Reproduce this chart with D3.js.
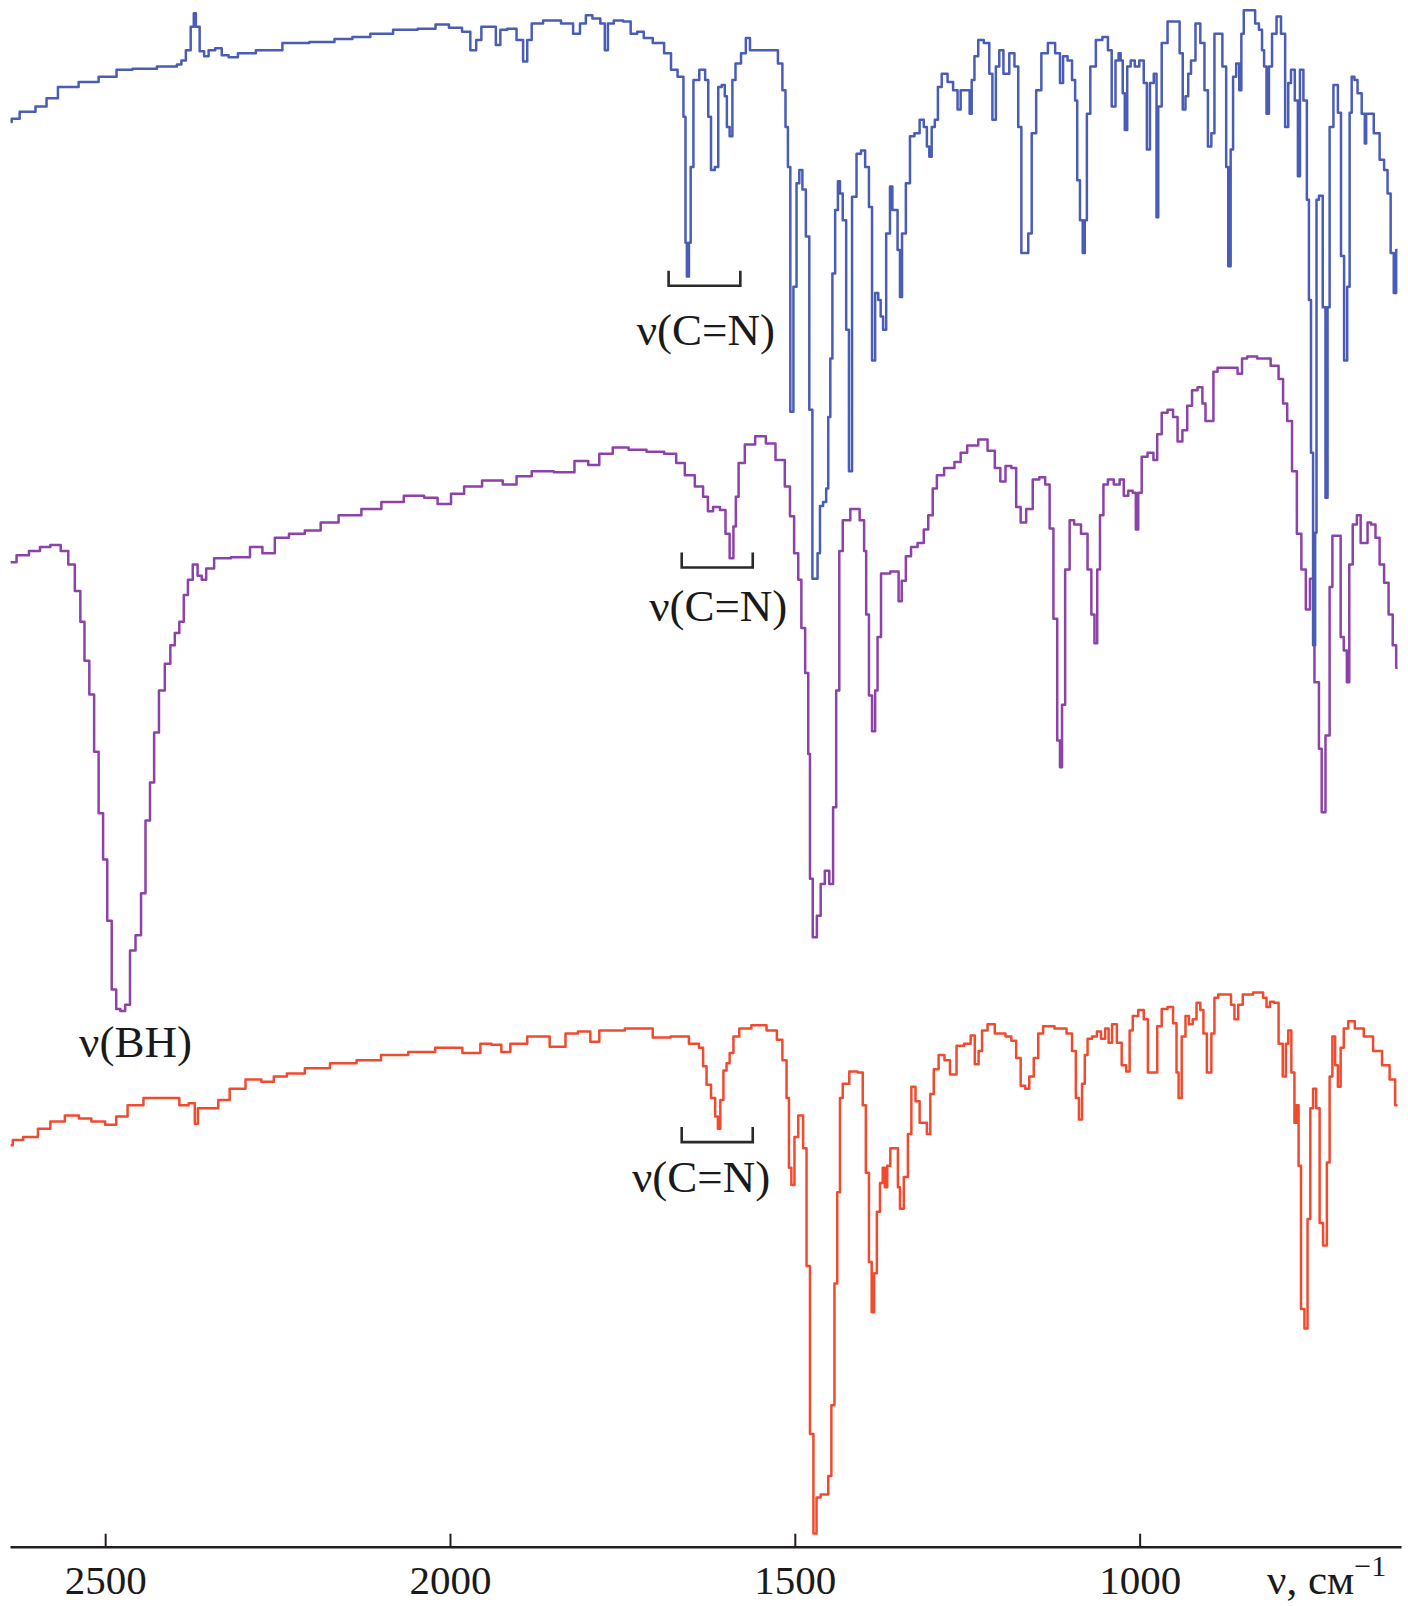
<!DOCTYPE html>
<html><head><meta charset="utf-8">
<script src="https://cdn.jsdelivr.net/npm/d3@7"></script>
<style>body{margin:0;background:#fff}svg{display:block}</style>
</head><body>
<svg id="chart" width="1408" height="1606"></svg>
<script>
// wavenumber (cm^-1), transmittance (arb. units, offset spectra)
const spectrumTop = [[2637,139.1],[2634,139.4],[2614,140.1],[2588,140.6],[2582,141.4],[2555,142.5],[2522,143.0],[2497,143.5],[2470,144.2],[2451,144.3],[2399,144.5],[2393,144.7],[2386,145.1],[2380,146.1],[2372,148.4],[2371,149.7],[2366,148.4],[2360,146.0],[2353,145.5],[2347,146.1],[2334,146.3],[2328,145.6],[2314,145.4],[2301,145.8],[2262,146.1],[2224,146.8],[2184,146.9],[2151,147.2],[2132,147.4],[2099,147.7],[2066,148.1],[2028,148.2],[2014,148.6],[1989,148.3],[1976,147.9],[1965,146.1],[1959,147.1],[1950,148.4],[1937,148.4],[1930,146.6],[1924,148.1],[1910,148.2],[1897,147.1],[1891,145.0],[1885,147.1],[1878,148.7],[1852,149.0],[1826,148.7],[1817,147.7],[1806,148.7],[1800,149.5],[1787,149.2],[1777,148.7],[1774,146.1],[1768,148.7],[1757,149.0],[1741,148.9],[1735,147.7],[1722,147.9],[1716,147.3],[1696,146.8],[1683,145.8],[1676,144.2],[1664,143.5],[1659,139.6],[1658,127.3],[1655,124.0],[1652,127.3],[1650,134.7],[1644,143.2],[1633,144.2],[1627,143.2],[1624,139.6],[1619,134.4],[1613,134.7],[1609,142.5],[1603,142.7],[1600,141.6],[1597,138.6],[1592,137.7],[1589,143.2],[1583,144.8],[1573,145.8],[1569,147.3],[1561,146.1],[1528,146.1],[1521,144.8],[1515,142.2],[1512,138.6],[1508,134.7],[1505,110.8],[1499,123.0],[1496,133.1],[1491,134.4],[1487,132.5],[1481,127.9],[1477,111.0],[1472,94.5],[1469,94.5],[1465,97.0],[1462,101.6],[1456,102.0],[1453,103.3],[1450,110.3],[1447,116.0],[1444,124.3],[1439,130.5],[1436,133.3],[1433,132.1],[1428,129.5],[1423,118.8],[1420,105.0],[1414,131.8],[1407,136.0],[1401,136.3],[1395,134.7],[1390,130.8],[1386,115.8],[1381,122.4],[1377,121.7],[1374,120.1],[1370,118.8],[1365,128.2],[1359,132.8],[1358,130.5],[1353,130.5],[1349,126.6],[1346,122.0],[1343,128.2],[1335,133.1],[1331,137.7],[1322,138.0],[1316,139.3],[1310,138.6],[1307,136.7],[1303,135.7],[1300,138.6],[1294,139.3],[1291,142.5],[1283,143.8],[1274,143.0],[1267,142.2],[1261,140.3],[1258,142.2],[1248,142.2],[1245,139.9],[1242,143.2],[1237,145.5],[1231,147.1],[1221,146.8],[1215,143.8],[1212,139.3],[1205,144.5],[1202,146.1],[1193,143.8],[1185,145.8],[1178,144.5],[1174,138.6],[1169,126.3],[1163,126.3],[1160,128.2],[1153,138.0],[1147,142.2],[1138,145.8],[1128,146.8],[1117,145.8],[1114,142.9],[1108,145.5],[1101,145.1],[1095,143.2],[1092,141.2],[1089,133.4],[1084,129.5],[1081,126.3],[1078,129.5],[1075,139.9],[1068,144.5],[1059,147.1],[1049,147.4],[1043,146.1],[1038,140.6],[1032,145.1],[1029,145.8],[1026,145.1],[1023,141.9],[1020,138.3],[1016,144.5],[1010,145.1],[1004,144.5],[997,145.1],[991,142.9],[988,136.4],[982,142.9],[977,143.8],[974,129.8],[972,140.6],[964,146.8],[955,148.9],[945,148.9],[939,145.8],[936,140.3],[931,141.6],[928,143.8],[923,145.1],[915,148.7],[909,146.8],[903,142.2],[899,136.7],[893,138.0],[890,147.7],[884,147.7],[876,144.5],[873,134.7],[870,125.0],[866,136.4],[863,143.5],[857,144.8],[854,142.2],[851,147.7],[847,150.0],[835,150.0],[830,148.7],[824,148.1],[821,146.1],[818,144.5],[814,139.9],[811,144.5],[805,147.7],[798,149.4],[792,147.7],[786,138.6],[783,142.9],[778,144.2],[772,141.2],[769,133.8],[766,144.2],[759,141.2],[756,131.5],[753,121.7],[750,106.8],[747,88.0],[744,99.0],[743,131.5],[737,131.9],[732,121.0],[729,102.4],[726,121.0],[723,138.6],[715,142.7],[710,140.0],[706,126.0],[701,115.8],[697,123.0],[694,140.0],[691,143.5],[686,143.2],[682,141.9],[674,139.9],[673,137.0],[670,139.9],[666,139.9],[655,138.0],[649,135.4],[642,134.4],[639,132.1],[633,126.3],[630,122.4],[626,126.6]];

const spectrumMiddle = [[2637,96.1],[2620,96.8],[2601,97.2],[2588,97.6],[2571,97.8],[2558,97.2],[2549,95.9],[2539,93.3],[2533,90.3],[2527,86.5],[2519,83.2],[2513,77.6],[2506,71.6],[2500,67.1],[2494,61.1],[2487,54.4],[2481,52.5],[2475,52.3],[2467,52.9],[2461,58.2],[2451,59.7],[2445,63.8],[2438,70.9],[2432,74.6],[2426,79.5],[2418,83.6],[2409,86.2],[2402,88.0],[2396,89.2],[2389,90.3],[2383,92.9],[2377,94.4],[2369,95.9],[2363,94.8],[2357,94.4],[2350,95.5],[2334,96.5],[2301,96.6],[2279,97.6],[2265,97.0],[2243,98.5],[2224,98.9],[2197,99.2],[2178,100.0],[2145,100.7],[2112,101.3],[2087,102.0],[2047,102.6],[2028,102.4],[2008,101.8],[1989,102.8],[1970,103.5],[1937,104.1],[1910,103.7],[1897,104.5],[1866,105.0],[1833,104.9],[1806,106.0],[1793,105.6],[1774,106.7],[1754,107.3],[1728,107.1],[1702,106.9],[1677,106.7],[1667,105.8],[1652,104.6],[1638,103.5],[1628,102.5],[1624,101.1],[1613,101.5],[1604,101.2],[1597,98.9],[1592,96.5],[1586,99.6],[1585,102.5],[1578,105.8],[1567,107.6],[1548,108.4],[1536,107.7],[1520,106.1],[1509,103.5],[1505,100.6],[1497,97.0],[1493,94.4],[1488,89.7],[1482,85.3],[1479,77.4],[1477,65.2],[1471,59.5],[1465,61.6],[1460,64.7],[1453,66.0],[1447,64.7],[1442,72.2],[1438,83.6],[1433,97.2],[1428,100.2],[1411,101.3],[1401,100.2],[1398,97.2],[1395,91.0],[1390,83.1],[1386,79.6],[1381,83.6],[1379,88.8],[1371,95.0],[1352,95.2],[1347,92.3],[1343,94.3],[1335,96.7],[1328,97.6],[1316,98.0],[1310,99.3],[1303,100.7],[1297,103.3],[1291,104.6],[1276,105.3],[1261,105.9],[1258,106.8],[1242,107.5],[1226,108.1],[1215,107.0],[1205,105.3],[1199,104.0],[1190,105.5],[1182,105.3],[1176,101.5],[1169,100.0],[1160,101.3],[1150,104.2],[1141,104.4],[1133,103.7],[1128,99.4],[1122,90.6],[1117,78.7],[1114,76.1],[1111,82.2],[1105,95.4],[1098,100.2],[1092,99.8],[1078,98.9],[1073,95.4],[1067,91.0],[1064,88.2],[1059,95.4],[1056,100.7],[1049,103.7],[1043,104.2],[1032,103.7],[1026,104.2],[1020,102.6],[1013,103.1],[1007,102.9],[1004,99.3],[1000,102.9],[994,106.4],[983,106.8],[977,106.1],[972,108.6],[964,110.7],[955,111.0],[948,110.3],[942,107.9],[934,109.0],[928,111.4],[920,112.9],[912,113.2],[906,111.6],[903,109.9],[896,109.9],[890,114.7],[884,115.1],[860,115.1],[856,114.5],[847,116.0],[841,116.2],[818,116.0],[802,115.3],[795,114.0],[789,111.6],[783,109.9],[775,105.0],[769,98.9],[762,95.4],[756,91.5],[750,94.5],[743,84.4],[737,77.9],[735,71.7],[726,79.2],[723,93.7],[718,98.7],[710,98.7],[707,88.8],[701,87.5],[698,84.4],[694,95.9],[688,99.8],[682,100.7],[677,98.0],[671,98.0],[668,100.0],[661,99.8],[655,98.5],[649,95.9],[642,94.1],[636,91.0],[630,88.0],[626,85.8]];

const spectrumBottom = [[2637,39.2],[2631,39.7],[2607,40.0],[2588,40.8],[2571,41.5],[2546,42.1],[2530,41.8],[2510,41.5],[2490,41.2],[2478,42.0],[2457,43.1],[2432,43.8],[2399,43.8],[2386,43.1],[2372,43.3],[2368,41.3],[2363,42.8],[2341,42.8],[2331,43.6],[2308,44.7],[2285,45.6],[2262,45.4],[2249,45.9],[2224,46.2],[2197,46.7],[2151,47.2],[2120,47.5],[2080,48.0],[2041,48.3],[2002,48.7],[1962,48.2],[1950,49.1],[1930,49.0],[1921,48.3],[1904,49.1],[1872,49.8],[1839,48.8],[1826,50.1],[1803,50.3],[1790,49.3],[1777,50.4],[1716,50.6],[1696,49.7],[1664,49.8],[1643,49.1],[1635,48.7],[1631,46.9],[1625,45.1],[1618,43.8],[1613,42.0],[1610,40.8],[1606,43.6],[1601,46.5],[1597,47.2],[1592,48.2],[1586,49.8],[1575,50.6],[1551,50.9],[1531,50.4],[1521,49.5],[1515,47.5],[1509,43.8],[1508,37.0],[1502,35.3],[1499,40.0],[1491,42.1],[1485,38.9],[1481,27.4],[1475,11.0],[1471,1.3],[1466,4.8],[1459,5.1],[1453,5.1],[1450,6.9],[1444,13.8],[1441,25.7],[1436,34.6],[1433,43.8],[1428,45.2],[1414,46.4],[1404,46.3],[1399,43.1],[1395,36.5],[1390,27.8],[1387,22.9],[1383,26.7],[1379,32.7],[1374,35.5],[1371,37.0],[1368,35.1],[1364,37.2],[1359,38.9],[1352,38.9],[1349,35.1],[1346,33.0],[1338,36.1],[1334,40.3],[1328,44.9],[1322,43.5],[1316,41.4],[1310,41.4],[1307,40.3],[1300,44.2],[1297,46.6],[1286,48.0],[1280,47.5],[1270,46.1],[1261,48.9],[1248,49.1],[1242,49.9],[1236,47.1],[1231,48.4],[1226,50.4],[1215,51.0],[1205,50.1],[1199,50.1],[1190,49.8],[1182,49.4],[1176,47.7],[1169,45.0],[1163,44.7],[1157,45.9],[1150,47.7],[1144,50.1],[1136,50.8],[1111,50.6],[1101,50.1],[1095,48.4],[1090,43.8],[1086,41.7],[1081,45.2],[1078,48.0],[1073,49.6],[1065,49.8],[1059,50.3],[1053,49.6],[1047,50.6],[1043,49.2],[1037,51.0],[1029,49.2],[1023,47.0],[1016,46.4],[1013,50.4],[1007,51.8],[997,52.4],[991,51.5],[985,46.3],[977,46.3],[972,50.8],[964,52.5],[955,52.7],[948,51.1],[945,46.3],[942,43.8],[936,49.8],[931,51.8],[926,51.0],[920,51.5],[915,53.1],[909,52.4],[906,50.1],[899,46.3],[893,50.1],[890,53.6],[882,53.9],[870,53.9],[865,52.9],[860,51.5],[854,52.9],[847,53.9],[824,54.1],[818,53.6],[814,52.7],[808,53.2],[802,53.1],[795,49.1],[790,45.9],[786,49.1],[783,50.4],[777,46.3],[774,41.4],[771,43.1],[768,37.2],[764,23.2],[758,21.3],[755,32.0],[750,42.8],[747,44.7],[741,42.8],[737,31.6],[731,29.4],[726,37.5],[723,45.9],[718,49.8],[715,47.0],[710,44.9],[707,48.7],[701,50.6],[694,51.3],[682,50.6],[668,49.8],[655,48.4],[642,47.0],[633,45.6],[626,43.1]];

const seriesColors = ["#f04b2f", "#8c42a8", "#4a5db6"];
const tickValues = [2500, 2000, 1500, 1000];
const tickLabels = ["2500", "2000", "1500", "1000"];

// annotations: bracket wavenumber span, bracket level, label centre
const bracketFrom = [1683, 1664, 1664];
const bracketTo = [1579, 1561, 1561];
const bracketLevel = [123.1, 95.6, 39.5];
const bracketLabel = ["ν(C=N)", "ν(C=N)", "ν(C=N)"];
const labelWn = [1629, 1611, 1636];
const labelT = [117.3, 90.4, 34.6];
const bandLabel = {text: "ν(BH)", wn: 2456, t: 47.8};

const svg = d3.select("#chart");
const x = d3.scaleLinear().domain([2638, 621]).range([10, 1401]);
const y = d3.scaleLinear().domain([0, 151]).range([1546.7, 0]);
const font = "'Liberation Serif', 'Times New Roman', serif";

const line = d3.line().x(d => x(d[0])).y(d => y(d[1])).curve(d3.curveStep);

[spectrumBottom, spectrumMiddle, spectrumTop].forEach((s, i) => {
  svg.append("path").datum(s)
    .attr("d", line)
    .attr("fill", "none")
    .attr("stroke", seriesColors[i])
    .attr("stroke-width", 2.5)
    .attr("stroke-linejoin", "round");
});

// brackets
bracketFrom.forEach((f, i) => {
  const x0 = x(f), x1 = x(bracketTo[i]), yb = y(bracketLevel[i]), yt = yb - 15;
  svg.append("path")
    .attr("d", `M${x0},${yt}V${yb}H${x1}V${yt}`)
    .attr("fill", "none").attr("stroke", "#2a2a2a").attr("stroke-width", 2.6);
  svg.append("text")
    .attr("x", x(labelWn[i])).attr("y", y(labelT[i]))
    .attr("text-anchor", "middle")
    .attr("font-family", font).attr("font-size", 45).attr("fill", "#1a1a1a")
    .text(bracketLabel[i]);
});

svg.append("text")
  .attr("x", x(bandLabel.wn)).attr("y", y(bandLabel.t))
  .attr("text-anchor", "middle")
  .attr("font-family", font).attr("font-size", 45).attr("fill", "#1a1a1a")
  .text(bandLabel.text);

// axis
const axis = d3.axisBottom(x).tickValues(tickValues)
  .tickFormat((d, i) => tickLabels[i]).tickSize(-13).tickSizeOuter(0);
const gx = svg.append("g").attr("transform", "translate(0,1546.7)").call(axis);
gx.select(".domain").attr("stroke", "#231f20").attr("stroke-width", 2.6);
gx.selectAll(".tick line").attr("stroke", "#231f20").attr("stroke-width", 2);
gx.selectAll(".tick text")
  .attr("y", 47).attr("dy", null)
  .attr("font-family", font).attr("font-size", 41).attr("fill", "#1a1a1a");

const axLabel = svg.append("text")
  .attr("x", 1267).attr("y", 1593.5)
  .attr("font-family", font).attr("font-size", 43).attr("fill", "#1a1a1a");
axLabel.append("tspan").text("ν, см");
axLabel.append("tspan").attr("dy", -18).attr("font-size", 30).text("−1");
</script>
</body></html>
